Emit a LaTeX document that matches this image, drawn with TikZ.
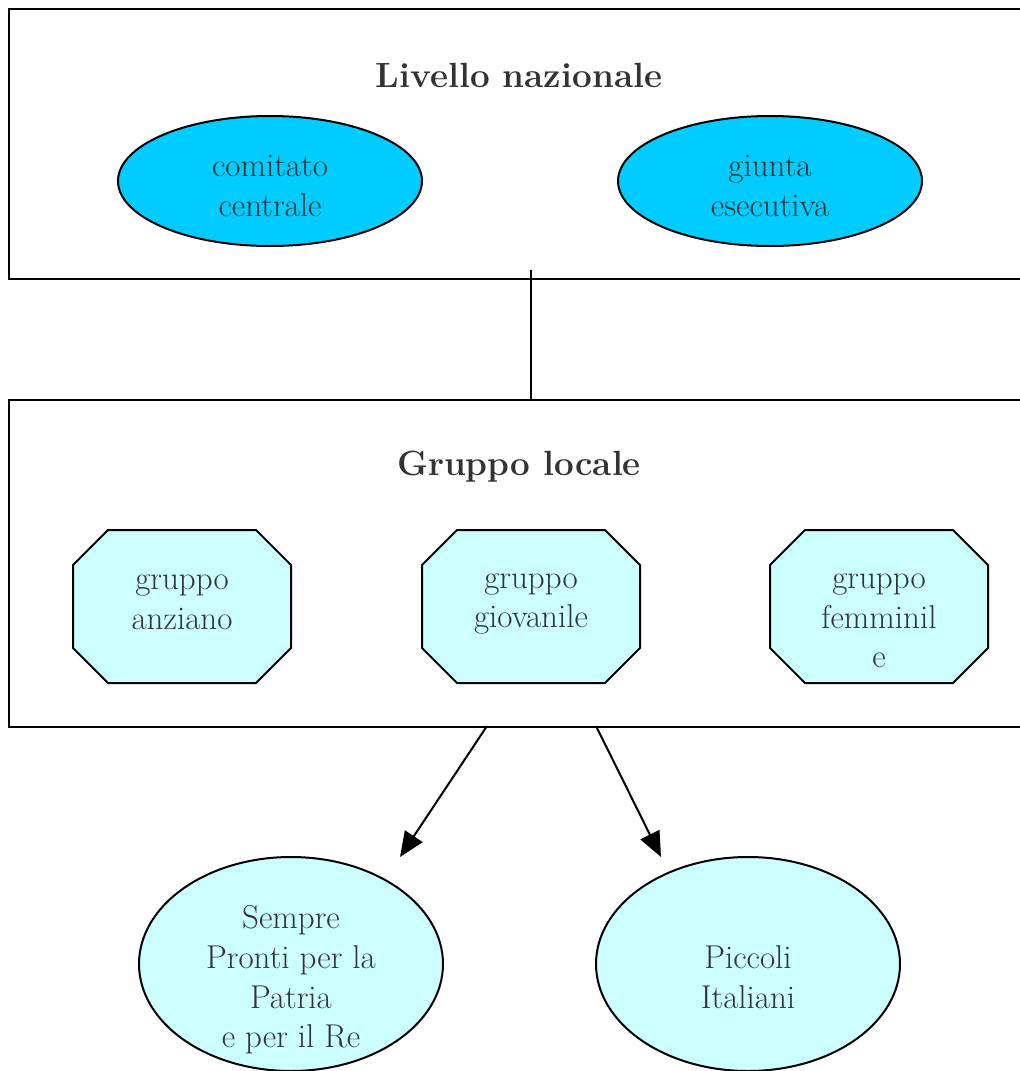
\documentclass[tikz,border=0pt]{standalone}
\usepackage{tikz}
\usepackage{xcolor}
\usetikzlibrary{shapes.geometric,arrows.meta}
\definecolor{headcyan}{HTML}{00CCFF}
\definecolor{palecyan}{HTML}{CCFFFF}
\definecolor{inktext}{HTML}{333333}
\tikzset{
    level-box/.style = {draw, line width=2pt, rectangle, anchor=north west, inner sep=0pt},
    level-title/.style = {text=inktext, font=\fontsize{35}{40}\selectfont\bfseries},
    body-text/.style = {text=inktext, align=center, font=\fontsize{33}{39.7}\selectfont},
    head-ellipse/.style = {draw, line width=2pt, ellipse, fill=headcyan, minimum width=304pt, minimum height=130pt, inner sep=0pt},
    group-octagon/.style = {draw, line width=2pt, fill=palecyan},
    youth-ellipse/.style = {draw, line width=2pt, ellipse, fill=palecyan, minimum width=304pt, minimum height=214pt, inner sep=0pt},
    link/.style = {line width=2pt, -{Triangle[length=25pt,width=21pt]}},
}
\begin{document}
\begin{tikzpicture}[x=1pt,y=-1pt]
\useasboundingbox (0,0) rectangle (1020,1071);
% national level
\node [level-box, minimum width=1030pt, minimum height=270pt] (national) at (8,8) {};
\node [level-title] (nationaltitle) at (519,75) {Livello nazionale};
\node [head-ellipse] (comitato) at (270,181) {};
\node [head-ellipse] (giunta) at (770,181) {};
\node [body-text] (comitatotext) at (270,186) {comitato\\centrale};
\node [body-text] (giuntatext) at (770,186) {giunta\\esecutiva};
% local group
\node [level-box, minimum width=1030pt, minimum height=327pt] (local) at (8,399) {};
\node [level-title] (localtitle) at (519,467) {Gruppo locale};
\foreach \cx in {182,531,879}
  \filldraw [group-octagon] (\cx-74,530) -- (\cx+74,530) -- (\cx+109,565) -- (\cx+109,648)
    -- (\cx+74,683) -- (\cx-74,683) -- (\cx-109,648) -- (\cx-109,565) -- cycle;
\node [body-text] (anziano) at (182,602) {gruppo\\anziano};
\node [body-text] (giovanile) at (531,604) {gruppo\\giovanile};
\node [body-text] (femminile) at (879,621) {gruppo\\femminil\\e};
% youth organisations
\node [youth-ellipse] (sempre) at (291,964) {};
\node [youth-ellipse] (piccoli) at (748,964) {};
\node [body-text] (sempretext) at (291,980) {Sempre\\Pronti per la\\Patria\\e per il Re};
\node [body-text] (piccolitext) at (748,977) {Piccoli\\Italiani};
% connectors
\coordinate (linktop) at (531,270);
\coordinate (leftfoot) at (487,726);
\coordinate (rightfoot) at (596,726);
\coordinate (lefttip) at (400,857);
\coordinate (righttip) at (661,857);
\draw [line width=2pt] (linktop) -- (linktop |- local.north);
\draw [link] (leftfoot) -- (lefttip);
\draw [link] (rightfoot) -- (righttip);
\end{tikzpicture}
\end{document}
